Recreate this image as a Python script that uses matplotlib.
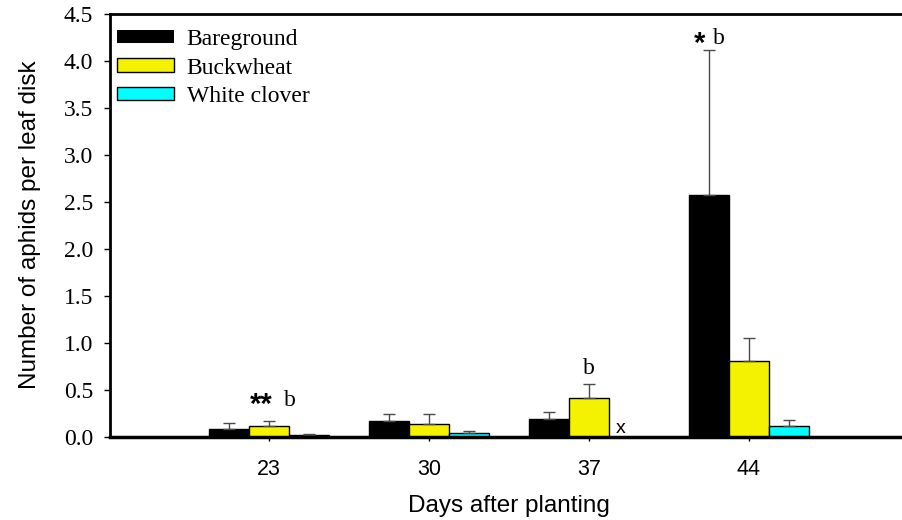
import matplotlib
matplotlib.use('Agg')
import matplotlib.pyplot as plt
from matplotlib.patches import Patch
import numpy as np

days = [23, 30, 37, 44]
series = ['Bareground', 'Buckwheat', 'White clover']
bareground = [0.08, 0.17, 0.19, 2.57]
bareground_err = [0.07, 0.07, 0.08, 1.55]
buckwheat = [0.12, 0.14, 0.41, 0.81]
buckwheat_err = [0.05, 0.11, 0.15, 0.24]
clover = [0.02, 0.04, 0.0, 0.12]
clover_err = [0.015, 0.02, 0.0, 0.06]

colors = ['#000000', '#f5f200', '#00ffff']
serif = 'Liberation Serif'
sans = 'Liberation Sans'

fig = plt.figure(figsize=(9.03, 5.2), dpi=100)
ax = fig.add_axes([110 / 903, 1 - 437 / 520, 793 / 903, 423 / 520])

x = np.array(days, dtype=float)
width = 1.75  # 7 days between groups, 4 bar slots
values = [bareground, buckwheat, clover]
errors = [bareground_err, buckwheat_err, clover_err]
offsets = [-width, 0, width]

for vals, errs, off, col in zip(values, errors, offsets, colors):
    ax.bar(x + off, vals, width, color=col, edgecolor='black', linewidth=1, zorder=2)
    keep = np.array(errs) > 0
    ax.errorbar((x + off)[keep], np.array(vals)[keep],
                yerr=[np.zeros(keep.sum()), np.array(errs)[keep]],
                fmt='none', ecolor='#4a4a4a', elinewidth=1, capsize=4, capthick=1, zorder=3)

# significance letters
ax.text(23.175, 0.26, '**', family=sans, fontsize=21, fontweight='bold', ha='right', va='baseline')
ax.text(23.66, 0.33, 'b', family=serif, fontsize=17, ha='left', va='baseline')
ax.text(37, 0.67, 'b', family=serif, fontsize=17, ha='center', va='baseline')
ax.text(38.38, 0.043, 'x', family=sans, fontsize=14, ha='center', va='baseline')
ax.text(42.08, 4.1, '*', family=sans, fontsize=21, fontweight='bold', ha='right', va='baseline')
ax.text(42.43, 4.18, 'b', family=serif, fontsize=17, ha='left', va='baseline')

ax.set_xlim(16.04, 50.74)
ax.set_ylim(0, 4.5)
ax.set_xticks(days)
ax.set_xticklabels([str(d) for d in days], family=sans, fontsize=15.5)
ax.set_yticks(np.arange(0, 4.51, 0.5))
ax.set_yticklabels(['%.1f' % v for v in np.arange(0, 4.51, 0.5)], family=serif, fontsize=17)
ax.tick_params(axis='y', direction='out', length=4, width=1, pad=8)
ax.tick_params(axis='x', direction='out', length=3, width=1, pad=13)

ax.spines['right'].set_visible(False)
ax.spines['left'].set_linewidth(2)
ax.spines['bottom'].set_linewidth(2.5)
ax.spines['top'].set_linewidth(2)
ax.spines['bottom'].set_zorder(4)

handles = [Patch(facecolor=c, edgecolor=('none' if i == 0 else 'black'), linewidth=1)
           for i, c in enumerate(colors)]
ax.legend(handles, series, loc='upper left', bbox_to_anchor=(0.0088, 0.9645),
          frameon=False, borderpad=0, borderaxespad=0, handlelength=2.4,
          handleheight=0.5, handletextpad=0.55, labelspacing=0.32,
          prop={'family': serif, 'size': 17})

fig.text(30 / 903, 1 - 225 / 520, 'Number of aphids per leaf disk', family=sans,
         fontsize=17.5, rotation=90, ha='center', va='center')
fig.text(509 / 903, 1 - 506 / 520, 'Days after planting', family=sans,
         fontsize=17.5, ha='center', va='center')

fig.savefig('out.png', dpi=100)
